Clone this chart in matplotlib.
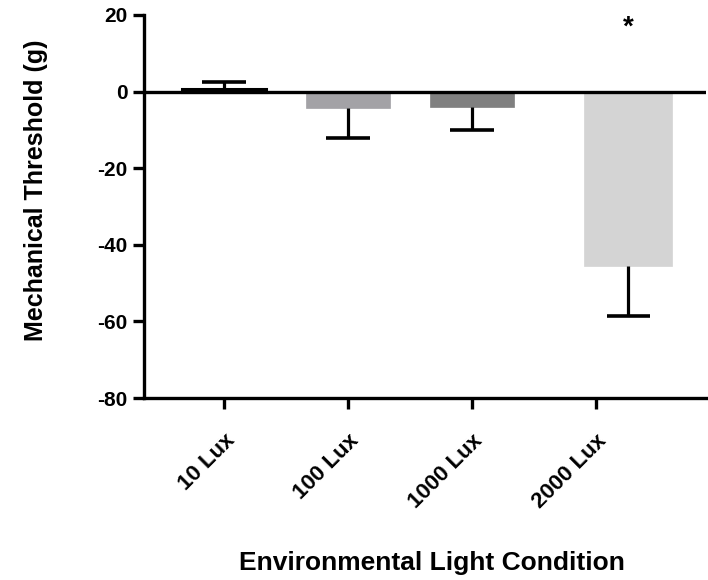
import numpy as np
import matplotlib
matplotlib.use('Agg')
import matplotlib.pyplot as plt

plt.rcParams['font.family'] = ['Liberation Sans', 'DejaVu Sans']
plt.rcParams['font.weight'] = 'bold'
plt.rcParams['axes.unicode_minus'] = False

conditions = ['10 Lux', '100 Lux', '1000 Lux', '2000 Lux']
means = [0.6, -4.4, -4.1, -45.5]
err_low = [0, 7.8, 5.9, 13.0]
err_high = [1.8, 0, 0, 0]
colors = ['white', '#a3a2a6', '#808080', '#d4d4d4']
edges = ['black', '#a3a2a6', '#808080', '#d4d4d4']
bar_pos = [0, 1, 2, 3.26]
widths = [0.67, 0.67, 0.67, 0.71]

fig = plt.figure(figsize=(7.08, 5.8), dpi=100)
ax = fig.add_axes([144 / 708, 182 / 580, (706 - 144) / 708, (565 - 182) / 580])

cap = 0.175
for i in range(len(conditions)):
    ax.bar(bar_pos[i], means[i], width=widths[i], color=colors[i],
           edgecolor=edges[i], linewidth=2.2 if i == 0 else 0.5, zorder=2)
    # one-sided error bar, away from zero
    if err_high[i] > 0:
        end = means[i] + err_high[i]
    else:
        end = means[i] - err_low[i]
    ax.vlines(bar_pos[i], means[i], end, color='black', lw=2.3, zorder=3)
    ax.hlines(end, bar_pos[i] - cap, bar_pos[i] + cap, color='black', lw=2.6, zorder=3)

ax.axhline(0, color='black', lw=2.4, zorder=4)
ax.text(bar_pos[3], 16.8, '*', ha='center', va='center', fontsize=20)

ax.set_xlim(-0.645, 3.887)
ax.set_ylim(-80, 20)
ax.set_yticks([20, 0, -20, -40, -60, -80])
ax.set_xticks(range(4))
ax.set_xticklabels(conditions, rotation=45, ha='right', rotation_mode='anchor',
                   fontsize=16)
ax.tick_params(axis='y', labelsize=15, width=2.4, length=8, pad=4)
ax.tick_params(axis='x', width=2.4, length=8, pad=15)

for s in ['top', 'right']:
    ax.spines[s].set_visible(False)
for s in ['left', 'bottom']:
    ax.spines[s].set_linewidth(2.4)

ax.set_ylabel('Mechanical Threshold (g)', fontsize=18, fontweight='bold')
ax.yaxis.set_label_coords(-0.171, 0.543)
ax.set_xlabel('Environmental Light Condition', fontsize=19, fontweight='bold')
ax.xaxis.set_label_coords(0.512, -0.40)

fig.savefig('out.png', dpi=100)
